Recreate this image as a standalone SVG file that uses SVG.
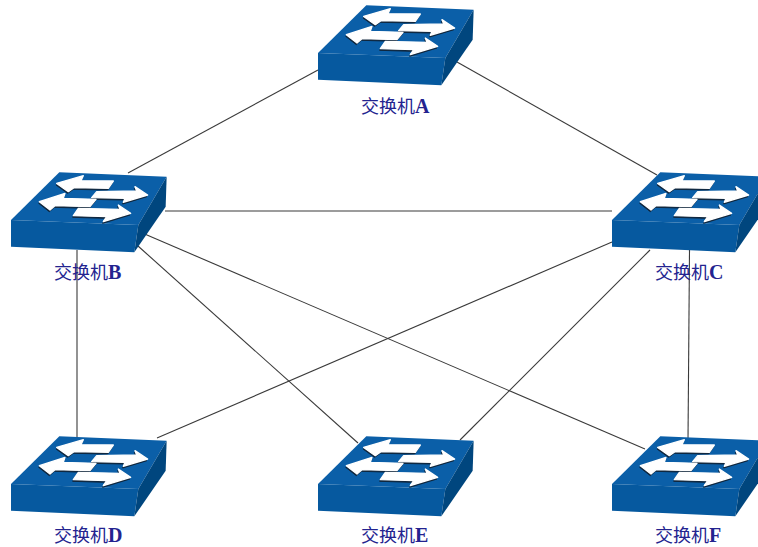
<svg xmlns="http://www.w3.org/2000/svg" width="758" height="547" viewBox="0 0 758 547">
<style>
.link{stroke:#3a3a3a;stroke-width:1.1;fill:none}
.lbl{font-family:"Noto Sans CJK SC","Liberation Serif",serif;font-size:18px;fill:#23238f}
.lat{font-family:"Liberation Serif",serif;font-weight:bold;font-size:20px}
.top{fill:#0b5fa8}.front{fill:#06599f}.side{fill:#00467e}
.ar{fill:#fff;stroke:#fff;stroke-width:4;stroke-linejoin:round}.sh{fill:#10263c;stroke:#10263c;stroke-width:3}
</style>
<defs>
<g id="sw" transform="scale(.3333)">
<polygon class="top" points="0,0 145,-143 467,-130 382,15"/>
<polygon class="front" points="0,0 382,15 370,97 0,80"/>
<polygon class="side" points="382,15 467,-130 464,-40 370,97"/>
<g transform="translate(-33,-165)">
<g id="arrows-shadow">
<polygon class="sh" transform="translate(-2,5)" points="170,55 250,32 243,47 340,48 325,70 222,68 205,80"/>
<polygon class="sh" transform="translate(-2,5)" points="443,90 405,65 410,78 290,80 275,98 375,100 370,112"/>
<polygon class="sh" transform="translate(-2,5)" points="118,110 195,85 190,100 288,103 270,125 165,122 150,135"/>
<polygon class="sh" transform="translate(-2,5)" points="392,145 355,120 360,133 235,130 220,152 320,155 310,170"/>
</g>
<polygon class="ar" points="170,55 250,32 243,47 340,48 325,70 222,68 205,80"/>
<polygon class="ar" points="443,90 405,65 410,78 290,80 275,98 375,100 370,112"/>
<polygon class="ar" points="118,110 195,85 190,100 288,103 270,125 165,122 150,135"/>
<polygon class="ar" points="392,145 355,120 360,133 235,130 220,152 320,155 310,170"/>
</g>
</g>
</defs>
<rect width="758" height="547" fill="#fff"/>
<g id="connectors">
<line class="link" x1="318" y1="70" x2="128" y2="173"/>
<line class="link" x1="457" y1="62" x2="657" y2="175"/>
<line class="link" x1="165" y1="211" x2="612" y2="211"/>
<line class="link" x1="77" y1="250" x2="77" y2="440"/>
<line class="link" x1="138" y1="246" x2="358" y2="443"/>
<line class="link" x1="140" y1="232" x2="645" y2="449"/>
<line class="link" x1="612" y1="242" x2="157" y2="438"/>
<line class="link" x1="650" y1="250" x2="460" y2="440"/>
<line class="link" x1="689.500" y1="250" x2="688" y2="440"/>
</g>
<g id="nodeA"><use href="#sw" transform="translate(318,53)"/><text class="lbl" x="361" y="113">交换机<tspan class="lat">A</tspan></text></g>
<g id="nodeB"><use href="#sw" transform="translate(11,220)"/><text class="lbl" x="54" y="279">交换机<tspan class="lat">B</tspan></text></g>
<g id="nodeC"><use href="#sw" transform="translate(612,220)"/><text class="lbl" x="655" y="279">交换机<tspan class="lat">C</tspan></text></g>
<g id="nodeD"><use href="#sw" transform="translate(11,484)"/><text class="lbl" x="54" y="542">交换机<tspan class="lat">D</tspan></text></g>
<g id="nodeE"><use href="#sw" transform="translate(318,484)"/><text class="lbl" x="361" y="542">交换机<tspan class="lat">E</tspan></text></g>
<g id="nodeF"><use href="#sw" transform="translate(612,484)"/><text class="lbl" x="655" y="542">交换机<tspan class="lat">F</tspan></text></g>
</svg>
